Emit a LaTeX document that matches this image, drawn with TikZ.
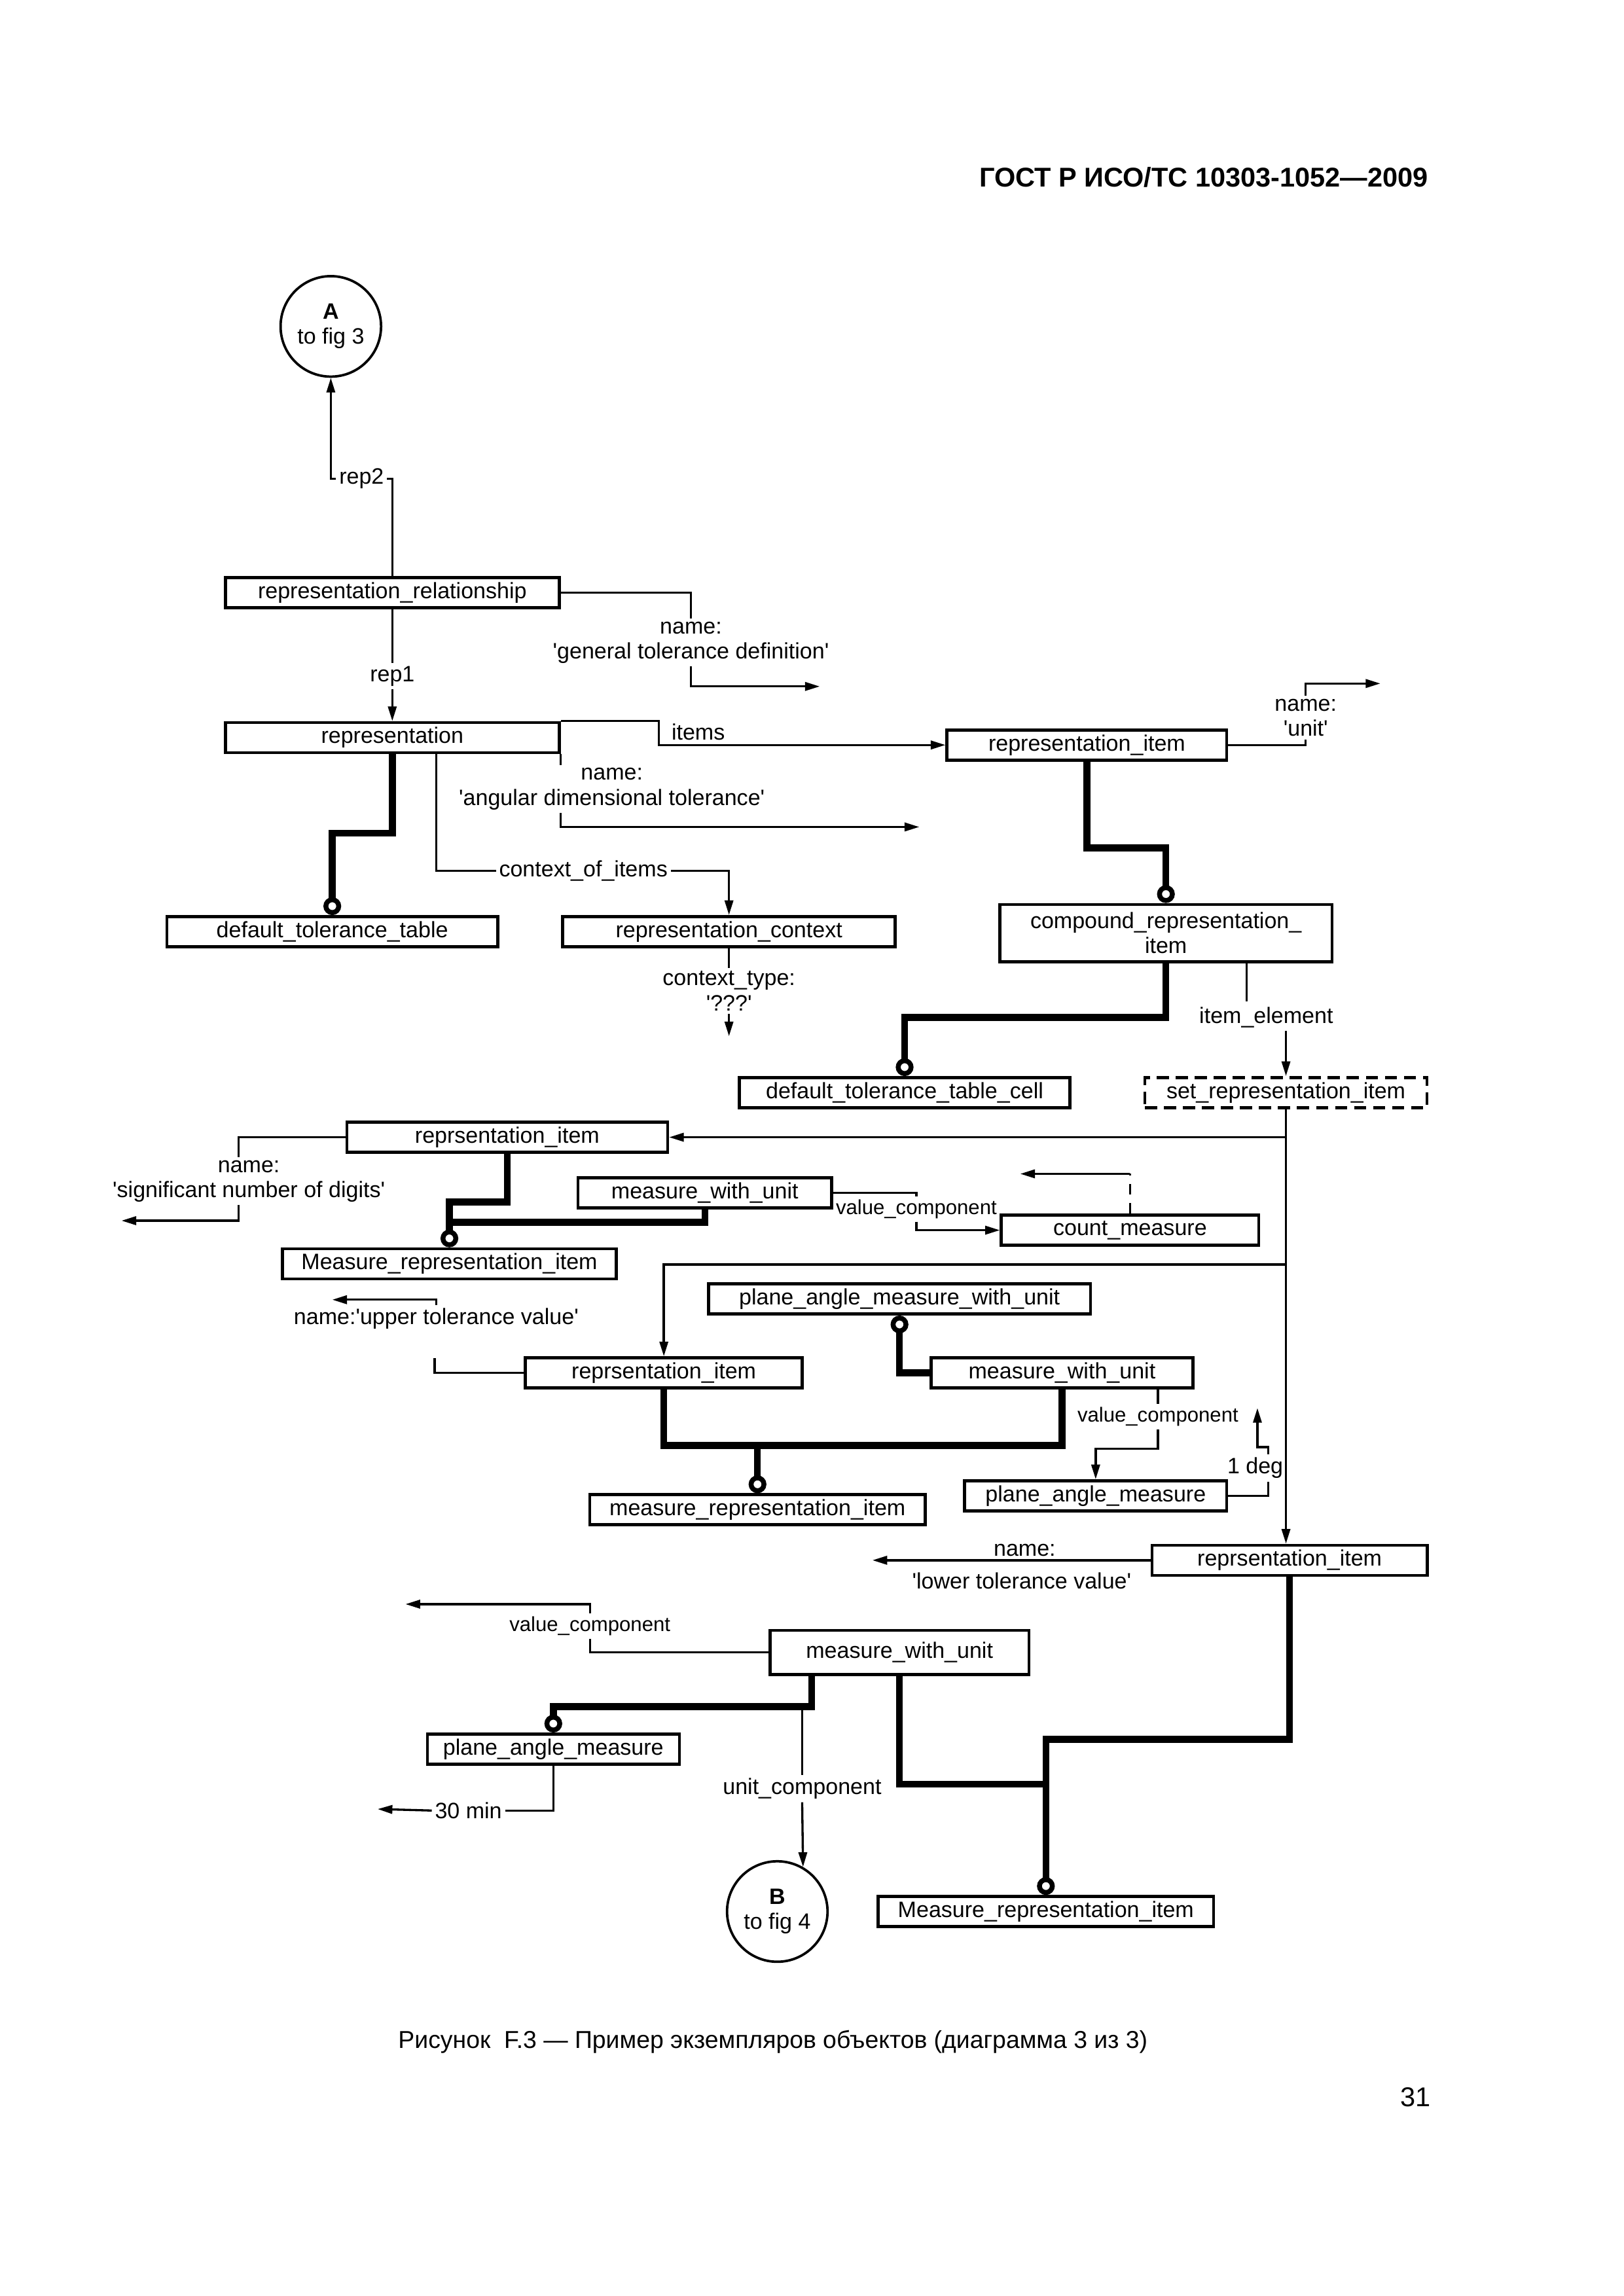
\documentclass[tikz,border=0pt]{standalone}
\usepackage{fontspec}
\setmainfont{Liberation Sans}
\usepackage{tikz}
\usetikzlibrary{positioning, arrows.meta, calc}
\newcommand\q{\textquotesingle}
\newcommand\lblsize{\fontsize{8.2}{9.2}\selectfont}

\begin{document}
\begin{tikzpicture}[x=0.018936cm, y=-0.018936cm,
      box/.style={draw, line width=1.1pt, minimum height=0.39cm,
                  inner sep=1pt, font=\lblsize, align=center},
      dbox/.style={box, dash pattern=on 4.5pt off 2.5pt},
      lbl/.style={inner sep=1pt, font=\lblsize, align=center},
      vcl/.style={lbl, font=\fontsize{7.5}{9}\selectfont},
      conn/.style={line width=0.8pt},
      arr/.style={conn, -{Triangle[length=1.9mm, width=1.1mm]}},
      thk/.style={line width=2.5pt},
      ring/.style={thk, -{Circle[open, length=2.3mm, width=2.3mm, line width=1.8pt]}},
      offpage/.style={draw, circle, line width=0.9pt, minimum size=1.3cm,
                      inner sep=0pt, font=\lblsize, align=center}
    ]
    \useasboundingbox (0,0) rectangle (1109,1568.7);

    % Page text
    \node[font=\bfseries\fontsize{10}{12}\selectfont, anchor=east, inner sep=0pt] (hdr) at (976,121)
        {ГОСТ Р ИСО/ТС 10303-1052—2009};
    \node[font=\fontsize{9}{11}\selectfont] (caption) at (528,1395)
        {Рисунок\ \ F.3 — Пример экземпляров объектов (диаграмма 3 из 3)};
    \node[font=\fontsize{10}{12}\selectfont] (pageNo) at (967,1433) {31};

    % Off-page references
    \node[offpage] (circA) at (226,223) {\textbf{A}\\to fig 3};
    \node[offpage] (circB) at (531,1306) {\textbf{B}\\to fig 4};

    % Boxes
    \node[box, minimum width=4.32cm] (relRep) at (268,405) {representation\_relationship};
    \node[box, minimum width=4.32cm] (rep)    at (268,504) {representation};
    \node[box, minimum width=4.28cm] (dtt)    at (227,636.5) {default\_tolerance\_table};
    \node[box, minimum width=4.30cm] (repCtx) at (498,636.5) {representation\_context};
    \node[box, minimum width=3.62cm] (repItem) at (742.5,509) {representation\_item};
    \node[box, minimum width=4.30cm, minimum height=0.74cm] (cri) at (796.5,637.5)
        {compound\_representation\_\\item};
    \node[box, minimum width=4.28cm] (dttc)   at (618,746.5) {default\_tolerance\_table\_cell};
    \node[dbox, minimum width=3.65cm] (sri)   at (878.5,746.5) {set\_representation\_item};
    \node[box, minimum width=4.15cm] (riA)    at (346.5,777) {reprsentation\_item};
    \node[box, minimum width=3.28cm] (mwuA)   at (481.5,815) {measure\_with\_unit};
    \node[box, minimum width=3.33cm] (cmA)    at (772,840.5) {count\_measure};
    \node[box, minimum width=4.32cm] (mriA)   at (307,863.5) {Measure\_representation\_item};
    \node[box, minimum width=4.94cm] (pamwu)  at (614.5,887.5) {plane\_angle\_measure\_with\_unit};
    \node[box, minimum width=3.58cm] (riB)    at (453.5,938) {reprsentation\_item};
    \node[box, minimum width=3.39cm] (mwuB)   at (725.5,938) {measure\_with\_unit};
    \node[box, minimum width=4.34cm] (mriB)   at (517.5,1031.5) {measure\_representation\_item};
    \node[box, minimum width=3.39cm] (pamB)   at (748.5,1022) {plane\_angle\_measure};
    \node[box, minimum width=3.56cm] (riC)    at (881,1066) {reprsentation\_item};
    \node[box, minimum width=3.35cm, minimum height=0.57cm] (mwuC) at (614.5,1129) {measure\_with\_unit};
    \node[box, minimum width=3.26cm] (pamC)   at (378,1195) {plane\_angle\_measure};
    \node[box, minimum width=4.34cm] (mriC)   at (714.5,1306) {Measure\_representation\_item};

    % Attribute labels
    \node[lbl] (rep2)    at (247,327) {rep2};
    \node[lbl] (rep1)    at (268,462) {rep1};
    \node[lbl] (nGen)    at (472,439) {name:\\\q{}general tolerance definition\q};
    \node[lbl] (items)   at (477,500) {items};
    \node[lbl] (nAng)    at (418,539) {name:\\\q{}angular dimensional tolerance\q};
    \node[lbl] (ctxOf)   at (398.5,595) {context\_of\_items};
    \node[lbl] (ctxType) at (498,677) {context\_type:\\\q???\q};
    \node[lbl] (nUnit)   at (892,490.5) {name:\\\q{}unit\q};
    \node[lbl] (itemEl)  at (865,695) {item\_element};
    \node[lbl] (nSig)    at (170,807) {name:\\\q{}significant number of digits\q};
    \node[vcl] (vcA)     at (626,826) {value\_component};
    \node[lbl] (nUp)     at (298,901) {name:\q{}upper tolerance value\q};
    \node[vcl] (vcB)     at (791,968) {value\_component};
    \node[lbl] (oneDeg)  at (857.5,1003) {1 deg};
    \node[lbl] (nLowA)   at (700,1059) {name:};
    \node[lbl] (nLowB)   at (698,1080) {\q{}lower tolerance value\q};
    \node[vcl] (vcC)     at (403,1111) {value\_component};
    \node[lbl] (unitC)   at (548,1222) {unit\_component};
    \node[lbl] (min30)   at (320,1237) {30 min};

    % Free ends
    \coordinate (genEnd)  at (560,469);
    \coordinate (angEnd)  at (628,565);
    \coordinate (ctxEnd)  at (498,708);
    \coordinate (unitEnd) at (943,467);
    \coordinate (brB)     at (878.5,864);
    \coordinate (sigEnd)  at (83,834);
    \coordinate (cmEnd)   at (697,802);
    \coordinate (upEnd)   at (227,888);
    \coordinate (jB)      at (517.5,987.5);
    \coordinate (degEnd)  at (859,962);
    \coordinate (lowEnd)  at (596,1066);
    \coordinate (vcEnd)   at (277,1096);
    \coordinate (ucTop)   at (548,1166);
    \coordinate (minEnd)  at (258,1236);
    \coordinate (jC)      at (714.5,1219);

    % representation_relationship
    \draw[conn] (relRep.north) |- (rep2.east);
    \draw[arr] (rep2.west) -| (circA.south);
    \draw[conn] (relRep.south) -- (rep1.north);
    \draw[arr] (rep1.south) -- (rep.north);
    \draw[conn] (relRep.east) -| (nGen.north);
    \draw[arr] (nGen.south) |- (genEnd);

    % representation
    \draw[arr] (rep.north east) -- ++(67,0) |- (repItem.west);
    \draw[conn] (rep.south east) -- (rep.east |- nAng.north);
    \draw[arr] (rep.east |- nAng.south) |- (angEnd);
    \draw[ring] (rep.south) -- ++(0,54) -| (dtt.north);
    \draw[conn] ($(rep.south)+(30,0)$) |- (ctxOf.west);
    \draw[arr] (ctxOf.east) -| (repCtx.north);
    \draw[conn] (repCtx.south) -- (ctxType.north);
    \draw[arr] (ctxType.south) -- (ctxEnd);

    % representation_item
    \draw[conn] (repItem.east) -| (nUnit.south);
    \draw[arr] (nUnit.north) |- (unitEnd);
    \draw[ring] (repItem.south) -- ++(0,59) -| (cri.north);
    \draw[ring] (cri.south) -- ++(0,37) -| (dttc.north);
    \draw[conn] (cri.south) ++(55,0) -- ++(0,26);
    \draw[arr] (itemEl.south -| sri.north) -- (sri.north);

    % set_representation_item trunk
    \draw[arr] (sri.south) -- (sri.south |- riC.north);
    \draw[arr] (sri.south |- riA.east) -- (riA.east);
    \draw[arr] (brB) -| (riB.north);

    % first reprsentation_item
    \draw[conn] (riA.west) -| ([xshift=-0.13cm]nSig.north);
    \draw[arr] ([xshift=-0.13cm]nSig.south) |- (sigEnd);
    \draw[ring] (riA.south) -- ++(0,33) -| (mriA.north);
    \draw[thk] (mwuA.south) |- ($(mriA.north)+(0,-17)$);
    \draw[conn] (mwuA.east) -| (vcA.north);
    \draw[arr] (vcA.south) |- (cmA.west);
    \draw[conn, dash pattern=on 4pt off 3pt] (cmA.north) -- (cmA.north |- cmEnd);
    \draw[arr] (cmA.north |- cmEnd) -- (cmEnd);

    % second reprsentation_item
    \draw[conn] (riB.west) -| ++(-61,-10);
    \draw[arr] (nUp.north) |- (upEnd);
    \draw[ring] (mwuB.west) -| (pamwu.south);
    \draw[thk] (riB.south) |- (jB) -| (mwuB.south);
    \draw[ring] (jB) -- (mriB.north);
    \draw[conn] (vcB.north |- mwuB.south) -- (vcB.north);
    \draw[arr] (vcB.south) -- ++(0,13) -| (pamB.north);
    \draw[conn] (pamB.east) -| ([xshift=0.17cm]oneDeg.south);
    \draw[arr] ([xshift=0.17cm]oneDeg.north) -- ++(0,-5) -| (degEnd);

    % third reprsentation_item
    \draw[arr] (riC.west) -- (lowEnd);
    \draw[conn] (mwuC.west) -| (vcC.south);
    \draw[arr] (vcC.north) |- (vcEnd);
    \draw[ring] (mwuC.south) ++(-60,0) -- ++(0,21) -| (pamC.north);
    \draw[conn] (ucTop) -- (unitC.north);
    \draw[arr] (unitC.south) -- (circB.60);
    \draw[conn] (pamC.south) |- (min30.east);
    \draw[arr] (min30.west) -- (minEnd);
    \draw[thk] (mwuC.south) |- (jC);
    \draw[ring] (riC.south) -- ++(0,111) -| (mriC.north);
  \end{tikzpicture}
\end{document}
